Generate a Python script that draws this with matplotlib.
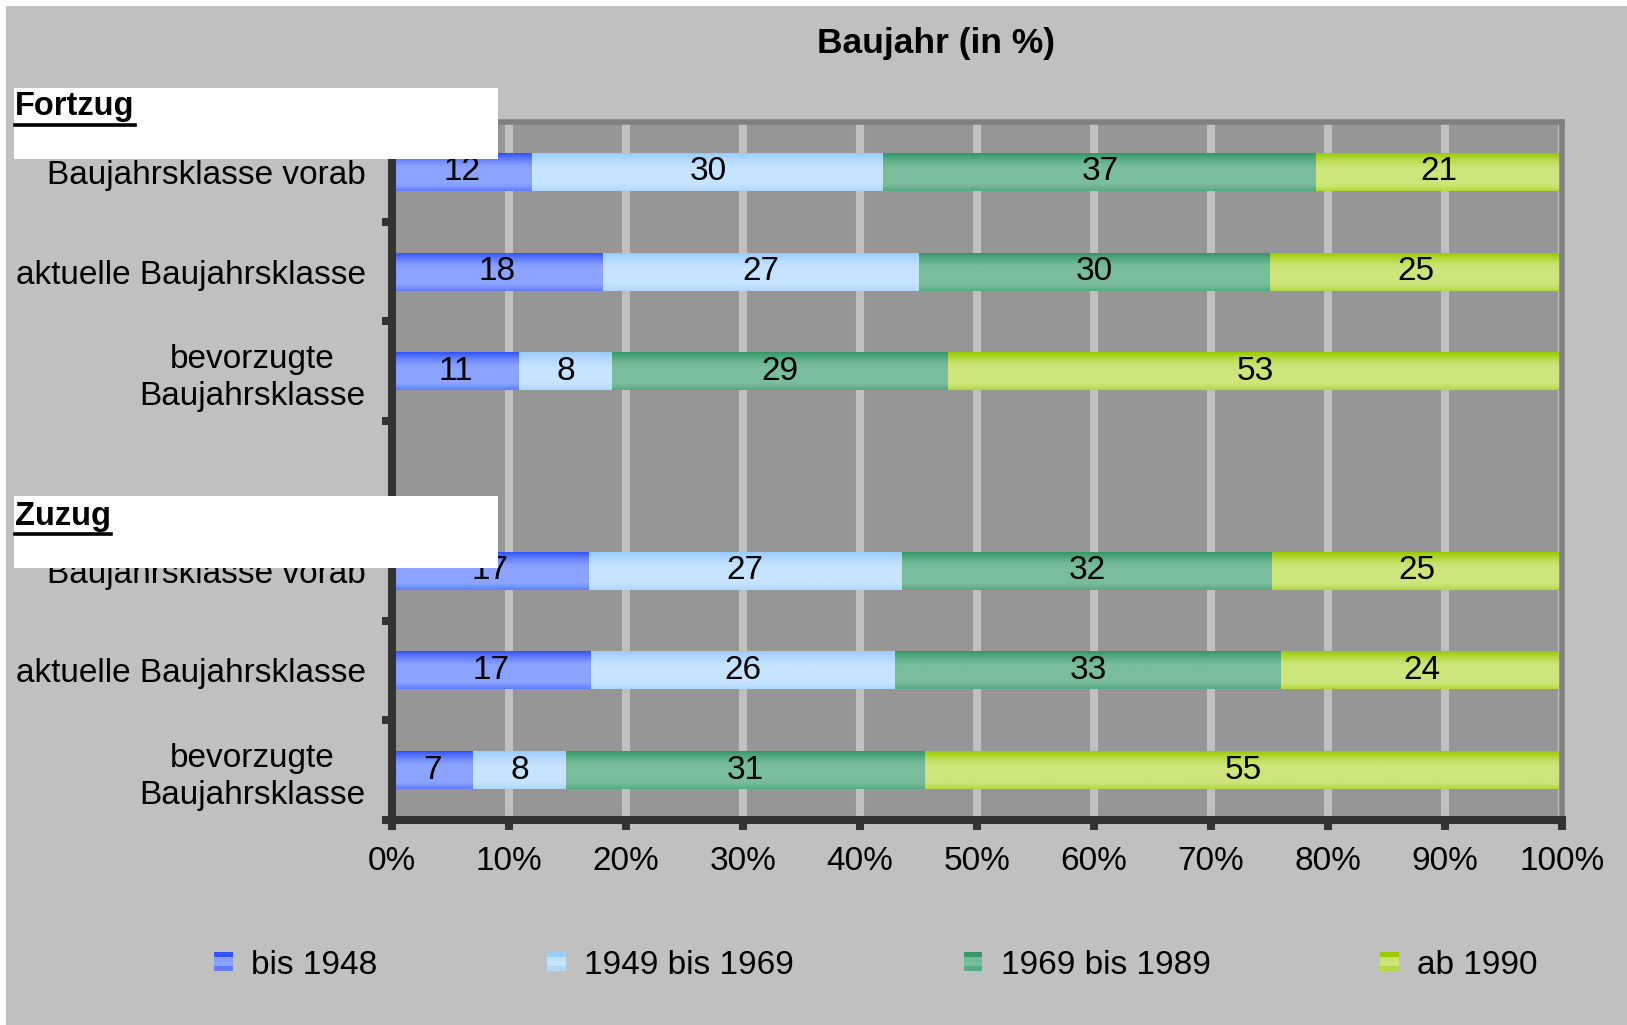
import numpy as np
import matplotlib
matplotlib.use("Agg")
import matplotlib.pyplot as plt
from matplotlib.colors import to_rgb
from matplotlib.patches import Rectangle
from matplotlib.lines import Line2D
from matplotlib.legend_handler import HandlerBase

plt.rcParams['font.family'] = ['Liberation Sans', 'DejaVu Sans']

# Kategorien (Leerzeile trennt Fortzug und Zuzug)
categories = ["Baujahrsklasse vorab", "aktuelle Baujahrsklasse", "bevorzugte\nBaujahrsklasse", "",
              "Baujahrsklasse vorab", "aktuelle Baujahrsklasse", "bevorzugte\nBaujahrsklasse"]
series = ["bis 1948", "1949 bis 1969", "1969 bis 1989", "ab 1990"]

# Anteile in % je Zeile
bis_1948 = [12, 18, 11, 0, 17, 17, 7]
bis_1969 = [30, 27, 8, 0, 27, 26, 8]
bis_1989 = [37, 30, 29, 0, 32, 33, 31]
ab_1990 = [21, 25, 53, 0, 25, 24, 55]

group_titles = ["Fortzug", "Zuzug"]

# Farben: Rand (dunkel) und Mitte (hell) fuer den Verlauf
dark_cols = ["#3355ff", "#99ccff", "#339966", "#99cc00"]
light_cols = ["#8ca4ff", "#c6e3ff", "#7abd9c", "#cce67c"]

FS = 24


def gradient(dark, light, n=40):
    d, l = np.array(to_rgb(dark)), np.array(to_rgb(light))
    t = np.linspace(0, 1, n)
    w = np.clip(1 - t / 0.4, 0, 1) ** 1.5 + 0.5 * np.clip((t - 0.8) / 0.2, 0, 1) ** 1.5
    return (d[None, :] * w[:, None] + l[None, :] * (1 - w[:, None]))[:, None, :]


class StripeHandler(HandlerBase):
    def __init__(self, dark, light):
        super().__init__()
        self.dark, self.light = dark, light

    def create_artists(self, legend, orig_handle, xdescent, ydescent, width, height, fontsize, trans):
        cols = gradient(self.dark, self.light, 4)[:, 0, :]
        arts = []
        for i, c in enumerate(cols):
            h = height / len(cols)
            arts.append(Rectangle((-xdescent, -ydescent + height - (i + 1) * h), width, h,
                                  facecolor=c, edgecolor='none', transform=trans))
        return arts


W, H = 1627, 1025
fig = plt.figure(figsize=(W / 100, H / 100), dpi=100, facecolor='white')
fig.add_artist(Rectangle((6 / W, 0), 1, (H - 6) / H, transform=fig.transFigure,
                         facecolor='#c0c0c0', edgecolor='none', zorder=-10))

ax = fig.add_axes([392 / W, 1 - 820 / H, (1562 - 392) / W, (820 - 122) / H])
ax.set_facecolor('#969696')

data = np.array([bis_1948, bis_1969, bis_1989, ab_1990], dtype=float)
totals = data.sum(axis=0)
totals[totals == 0] = 1
shares = data / totals * 100

y = np.arange(len(categories))
bar_h = 0.38
left = np.zeros(len(categories))
for k, name in enumerate(series):
    mask = data[k] > 0
    bars = ax.barh(y[mask], shares[k][mask], left=left[mask], height=bar_h,
                   color='none', label=name, zorder=2)
    grad = gradient(dark_cols[k], light_cols[k])
    for p in bars.patches:
        ax.imshow(grad, extent=[p.get_x(), p.get_x() + p.get_width(),
                                p.get_y() + p.get_height(), p.get_y()],
                  aspect='auto', zorder=2, interpolation='bilinear')
    ax.bar_label(bars, labels=[f"{v:.0f}" for v in data[k][mask]], label_type='center',
                 fontsize=FS, color='black', zorder=3)
    left += shares[k]

ax.set_xlim(0, 100)
ax.set_ylim(len(categories) - 0.5, -0.5)

# Achsen
ax.set_xticks(np.arange(0, 101, 10))
ax.set_xticklabels([f"{v}%" for v in range(0, 101, 10)], fontsize=FS)
ax.tick_params(axis='x', length=7, width=5.8, color='#333333', pad=12)
ax.set_yticks(y)
ax.set_yticklabels(categories, fontsize=FS)
ax.set_yticks(y + 0.5, minor=True)
ax.tick_params(axis='y', which='major', length=0, pad=19)
ax.tick_params(axis='y', which='minor', length=7, width=5.8, color='#333333')
for lab in ax.get_yticklabels():
    lab.set_multialignment('center')
    lab.set_linespacing(1.25)

ax.set_axisbelow(True)
ax.grid(axis='x', color='#c0c0c0', linewidth=5.8)
ax.grid(axis='y', visible=False)
for s in ['left', 'bottom']:
    ax.spines[s].set_color('#333333')
    ax.spines[s].set_linewidth(5.8)
    ax.spines[s].set_zorder(4)
for s in ['top', 'right']:
    ax.spines[s].set_color('#808080')
    ax.spines[s].set_linewidth(4)

fig.text(936 / W, 1 - 44 / H, "Baujahr (in %)", ha='center', va='center',
         fontsize=25.5, fontweight='bold')

# Gruppenueberschriften in weissen Kaesten
fig.canvas.draw()
renderer = fig.canvas.get_renderer()
for title, (y0, y1, yt) in zip(group_titles, [(88, 159, 107), (496, 568, 516)]):
    fig.add_artist(Rectangle((13.5 / W, 1 - y1 / H), (498 - 13.5) / W, (y1 - y0) / H,
                             transform=fig.transFigure, facecolor='white',
                             edgecolor='none', zorder=5))
    t = fig.text(15 / W, 1 - yt / H, title, ha='left', va='center', fontsize=23.5,
                 fontweight='bold', zorder=6)
    bb = t.get_window_extent(renderer)
    uy = bb.y0 - 2
    fig.add_artist(Line2D([bb.x0 / W, bb.x1 / W], [uy / H, uy / H], transform=fig.transFigure,
                          color='black', linewidth=2.6, zorder=6))

handles = [Rectangle((0, 0), 1, 1) for _ in series]
fig.legend(handles, series, ncol=4, loc='center', bbox_to_anchor=(876 / W, 1 - 965 / H),
           frameon=False, fontsize=FS, handlelength=0.55, handleheight=0.5,
           handletextpad=0.55, columnspacing=5.1,
           handler_map={h: StripeHandler(d, l) for h, d, l in zip(handles, dark_cols, light_cols)})

fig.savefig("out.png", dpi=100, facecolor=fig.get_facecolor())
